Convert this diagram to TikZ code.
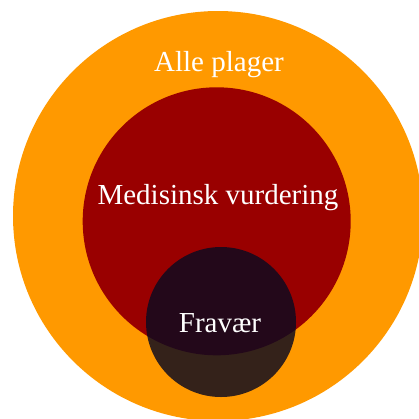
\documentclass[tikz,border=0pt]{standalone}
\usepackage{fontspec}
\setmainfont{Liberation Serif}
\definecolor{plagecol}{RGB}{255,153,0}
\definecolor{medcol}{RGB}{153,0,0}
\definecolor{fravcol}{RGB}{12,10,32}
\tikzset{lbl/.append style={text=white,font=\fontsize{29}{34}\selectfont,anchor=base,inner sep=0}}
\tikzset{fr/.append style={fill=fravcol,fill opacity=0.83}}

\begin{document}
\begin{tikzpicture}[x=1pt,y=-1pt]
                \useasboundingbox (0,0) rectangle (419,418);
                \clip (0,0) rectangle (419,418);
                % sirkler
                \fill[plagecol] (218,216) circle[radius=205pt];
                \fill[medcol] (216.7,221.3) circle[radius=134pt];
                \fill[fr] (221,322) circle[radius=75pt];
                % tekst
                \node[lbl] (plager) at (219,71) {Alle plager};
                \node[lbl] (medisinsk) at (218,204) {Medisinsk vurdering};
                \node[lbl] (fravaer) at (220,332) {Fravær};
            \end{tikzpicture}
\end{document}
